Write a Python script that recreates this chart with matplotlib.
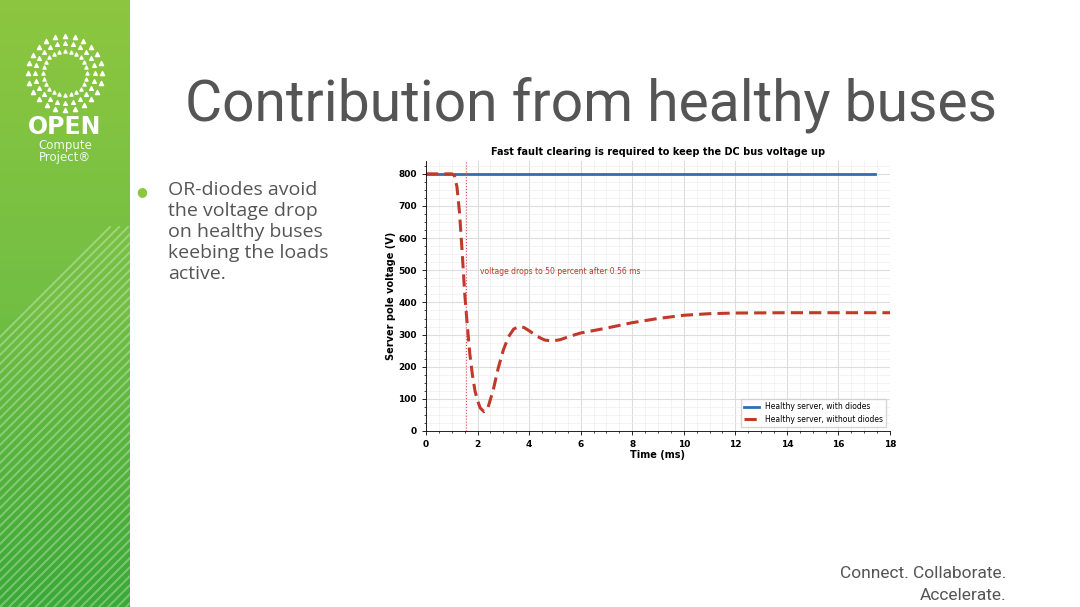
import numpy as np
import matplotlib.pyplot as plt
from matplotlib.ticker import MultipleLocator
from matplotlib.colors import LinearSegmentedColormap

# data
t_diode = [0, 17.4]
v_diode = [800, 800]
t_nodiode = [0, 1.0, 1.1, 1.2, 1.3, 1.4, 1.5, 1.6, 1.7, 1.8, 1.9, 2.0, 2.1, 2.25, 2.4, 2.6,
             2.8, 3.0, 3.2, 3.4, 3.6, 3.8, 4.0, 4.3, 4.6, 4.9, 5.2, 5.6, 6, 7, 8, 9, 10,
             11, 12, 14, 16, 18]
v_nodiode = [800, 800, 795, 760, 680, 560, 430, 330, 240, 175, 125, 95, 72, 60, 72, 125,
             195, 252, 293, 317, 325, 322, 312, 295, 283, 280, 284, 295, 305, 320, 337, 350, 360,
             365, 367, 368, 368, 368]
t_half = 1.56
bullets = "OR-diodes avoid\nthe voltage drop\non healthy buses\nkeebing the loads\nactive."

fig = plt.figure(figsize=(10.8, 6.07), dpi=100)
fig.patch.set_facecolor('white')
grey = '#555555'

# green sidebar
side = fig.add_axes([0, 0, 130/1080, 1])
cmap = LinearSegmentedColormap.from_list('g', ['#8dc63f', '#72bf44', '#3aa935'])
grad = np.linspace(0, 1, 256).reshape(-1, 1)
side.imshow(grad, aspect='auto', cmap=cmap, extent=[0, 130, 607, 0])
for k in range(-30, 40):
    x0 = k * 9
    side.plot([x0, x0 + 380], [607, 227], color='white', alpha=0.3, lw=1.5)
side.set_xlim(0, 130)
side.set_ylim(607, 0)
side.axis('off')
# logo dots
ang = np.linspace(0, 2*np.pi, 24, endpoint=False)
for r, s in [(22, 5), (30, 7), (37, 9)]:
    side.scatter(65 + r*np.cos(ang), 73 + r*np.sin(ang), s=s, color='white', marker='^')
side.text(65, 127, 'OPEN', color='white', fontsize=17, fontweight='bold', ha='center', va='center', family='DejaVu Sans')
side.text(65, 145, 'Compute', color='white', fontsize=8.5, ha='center', va='center', alpha=0.9)
side.text(65, 157, 'Project®', color='white', fontsize=8.5, ha='center', va='center', alpha=0.9)

fig.text(185/1080, 1 - 105/607, 'Contribution from healthy buses', fontsize=41, color=grey,
         va='center', family='Roboto')
fig.text(142/1080, 1 - 192/607, '●', fontsize=9, color='#8dc63f', va='center', ha='center')
fig.text(168/1080, 1 - 181/607, bullets, fontsize=14, color=grey, va='top', linespacing=1.22, family='Open Sans')
fig.text(1006/1080, 1 - 573/607, 'Connect. Collaborate.', fontsize=12.5, color=grey, ha='right', va='center', family='Roboto')
fig.text(1006/1080, 1 - 595/607, 'Accelerate.', fontsize=12.5, color=grey, ha='right', va='center', family='Roboto')

ax = fig.add_axes([426/1080, 1 - 431/607, 464/1080, 270/607])
ax.plot(t_diode, v_diode, color='#2f6fad', lw=2, label='Healthy server, with diodes')
ax.plot(t_nodiode, v_nodiode, color='#c0392b', lw=2.2, ls=(0, (4, 2)), label='Healthy server, without diodes')
ax.axvline(t_half, color='#d9534f', lw=0.8, ls=':')
ax.text(2.1, 495, 'voltage drops to 50 percent after 0.56 ms', color='#c0392b', fontsize=5.5, va='center')
ax.set_xlim(0, 18)
ax.set_ylim(0, 840)
ax.xaxis.set_major_locator(MultipleLocator(2))
ax.xaxis.set_minor_locator(MultipleLocator(0.5))
ax.yaxis.set_major_locator(MultipleLocator(100))
ax.yaxis.set_minor_locator(MultipleLocator(25))
ax.grid(which='major', color='#dddddd', lw=0.8)
ax.grid(which='minor', color='#eeeeee', lw=0.5)
ax.tick_params(labelsize=6.5, length=3, width=0.6)
ax.tick_params(which='minor', length=1.5, width=0.5)
for lab in ax.get_xticklabels() + ax.get_yticklabels():
    lab.set_fontweight('bold')
for s in ['top', 'right']:
    ax.spines[s].set_visible(False)
for s in ['left', 'bottom']:
    ax.spines[s].set_linewidth(0.6)
ax.set_xlabel('Time (ms)', fontsize=7, labelpad=1, fontweight='bold')
ax.set_ylabel('Server pole voltage (V)', fontsize=7, labelpad=2, fontweight='bold')
ax.set_title('Fast fault clearing is required to keep the DC bus voltage up', fontsize=7, pad=4, fontweight='bold')
ax.legend(loc='lower right', fontsize=5.5, frameon=True, fancybox=False, edgecolor='#cccccc')

fig.savefig('out.png', dpi=100)
